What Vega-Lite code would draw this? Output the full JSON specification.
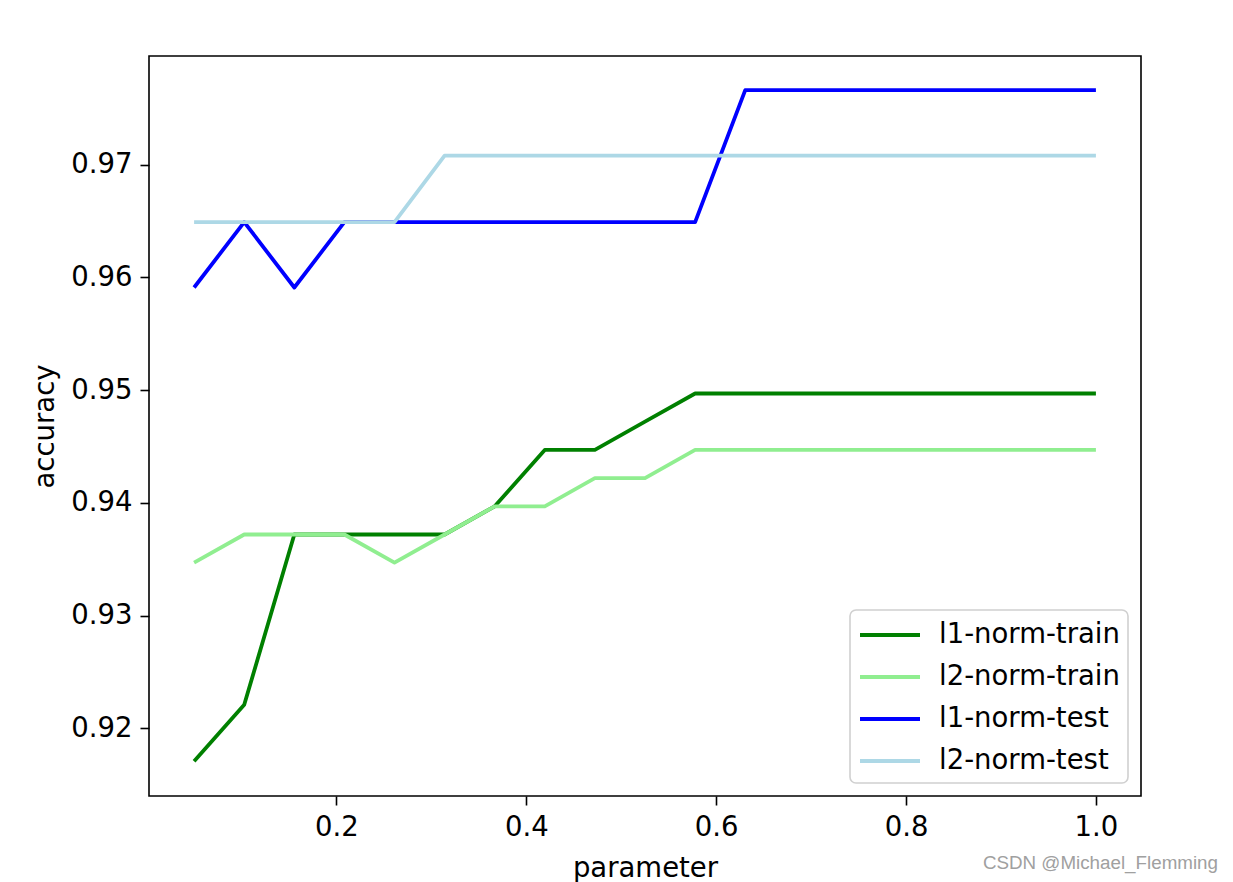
{
  "$schema": "https://vega.github.io/schema/vega-lite/v6.json",
  "width": 992,
  "height": 740,
  "autosize": {"type": "none"},
  "padding": {"left": 149, "top": 56, "right": 92, "bottom": 86},
  "background": "white",
  "title": {
    "text": "CSDN @Michael_Flemming",
    "orient": "bottom",
    "anchor": "end",
    "frame": "group",
    "font": "Liberation Sans",
    "fontSize": 18.8,
    "fontWeight": "normal",
    "color": "#a0a0a0",
    "dx": 77,
    "offset": -28
  },
  "config": {
    "view": {"stroke": "black", "strokeWidth": 1.6},
    "font": "DejaVu Sans",
    "axis": {
      "grid": false,
      "domain": false,
      "tickColor": "black",
      "tickWidth": 1.6,
      "tickSize": 9,
      "labelFont": "DejaVu Sans",
      "labelFontSize": 27.5,
      "labelColor": "black",
      "labelPadding": 8,
      "titleFont": "DejaVu Sans",
      "titleFontSize": 27.5,
      "titleFontWeight": "normal",
      "titleColor": "black"
    }
  },
  "data": {
    "values": [
      {"x": 0.05, "accuracy": 0.9171, "series": "l1-norm-train"},
      {"x": 0.1028, "accuracy": 0.9221, "series": "l1-norm-train"},
      {"x": 0.1556, "accuracy": 0.9372, "series": "l1-norm-train"},
      {"x": 0.2083, "accuracy": 0.9372, "series": "l1-norm-train"},
      {"x": 0.2611, "accuracy": 0.9372, "series": "l1-norm-train"},
      {"x": 0.3139, "accuracy": 0.9372, "series": "l1-norm-train"},
      {"x": 0.3667, "accuracy": 0.9397, "series": "l1-norm-train"},
      {"x": 0.4194, "accuracy": 0.9447, "series": "l1-norm-train"},
      {"x": 0.4722, "accuracy": 0.9447, "series": "l1-norm-train"},
      {"x": 0.525, "accuracy": 0.9472, "series": "l1-norm-train"},
      {"x": 0.5778, "accuracy": 0.9497, "series": "l1-norm-train"},
      {"x": 0.6306, "accuracy": 0.9497, "series": "l1-norm-train"},
      {"x": 0.6833, "accuracy": 0.9497, "series": "l1-norm-train"},
      {"x": 0.7361, "accuracy": 0.9497, "series": "l1-norm-train"},
      {"x": 0.7889, "accuracy": 0.9497, "series": "l1-norm-train"},
      {"x": 0.8417, "accuracy": 0.9497, "series": "l1-norm-train"},
      {"x": 0.8944, "accuracy": 0.9497, "series": "l1-norm-train"},
      {"x": 0.9472, "accuracy": 0.9497, "series": "l1-norm-train"},
      {"x": 1.0, "accuracy": 0.9497, "series": "l1-norm-train"},

      {"x": 0.05, "accuracy": 0.9347, "series": "l2-norm-train"},
      {"x": 0.1028, "accuracy": 0.9372, "series": "l2-norm-train"},
      {"x": 0.1556, "accuracy": 0.9372, "series": "l2-norm-train"},
      {"x": 0.2083, "accuracy": 0.9372, "series": "l2-norm-train"},
      {"x": 0.2611, "accuracy": 0.9347, "series": "l2-norm-train"},
      {"x": 0.3139, "accuracy": 0.9372, "series": "l2-norm-train"},
      {"x": 0.3667, "accuracy": 0.9397, "series": "l2-norm-train"},
      {"x": 0.4194, "accuracy": 0.9397, "series": "l2-norm-train"},
      {"x": 0.4722, "accuracy": 0.9422, "series": "l2-norm-train"},
      {"x": 0.525, "accuracy": 0.9422, "series": "l2-norm-train"},
      {"x": 0.5778, "accuracy": 0.9447, "series": "l2-norm-train"},
      {"x": 0.6306, "accuracy": 0.9447, "series": "l2-norm-train"},
      {"x": 0.6833, "accuracy": 0.9447, "series": "l2-norm-train"},
      {"x": 0.7361, "accuracy": 0.9447, "series": "l2-norm-train"},
      {"x": 0.7889, "accuracy": 0.9447, "series": "l2-norm-train"},
      {"x": 0.8417, "accuracy": 0.9447, "series": "l2-norm-train"},
      {"x": 0.8944, "accuracy": 0.9447, "series": "l2-norm-train"},
      {"x": 0.9472, "accuracy": 0.9447, "series": "l2-norm-train"},
      {"x": 1.0, "accuracy": 0.9447, "series": "l2-norm-train"},

      {"x": 0.05, "accuracy": 0.9591, "series": "l1-norm-test"},
      {"x": 0.1028, "accuracy": 0.9649, "series": "l1-norm-test"},
      {"x": 0.1556, "accuracy": 0.9591, "series": "l1-norm-test"},
      {"x": 0.2083, "accuracy": 0.9649, "series": "l1-norm-test"},
      {"x": 0.2611, "accuracy": 0.9649, "series": "l1-norm-test"},
      {"x": 0.3139, "accuracy": 0.9649, "series": "l1-norm-test"},
      {"x": 0.3667, "accuracy": 0.9649, "series": "l1-norm-test"},
      {"x": 0.4194, "accuracy": 0.9649, "series": "l1-norm-test"},
      {"x": 0.4722, "accuracy": 0.9649, "series": "l1-norm-test"},
      {"x": 0.525, "accuracy": 0.9649, "series": "l1-norm-test"},
      {"x": 0.5778, "accuracy": 0.9649, "series": "l1-norm-test"},
      {"x": 0.6306, "accuracy": 0.9766, "series": "l1-norm-test"},
      {"x": 0.6833, "accuracy": 0.9766, "series": "l1-norm-test"},
      {"x": 0.7361, "accuracy": 0.9766, "series": "l1-norm-test"},
      {"x": 0.7889, "accuracy": 0.9766, "series": "l1-norm-test"},
      {"x": 0.8417, "accuracy": 0.9766, "series": "l1-norm-test"},
      {"x": 0.8944, "accuracy": 0.9766, "series": "l1-norm-test"},
      {"x": 0.9472, "accuracy": 0.9766, "series": "l1-norm-test"},
      {"x": 1.0, "accuracy": 0.9766, "series": "l1-norm-test"},

      {"x": 0.05, "accuracy": 0.9649, "series": "l2-norm-test"},
      {"x": 0.1028, "accuracy": 0.9649, "series": "l2-norm-test"},
      {"x": 0.1556, "accuracy": 0.9649, "series": "l2-norm-test"},
      {"x": 0.2083, "accuracy": 0.9649, "series": "l2-norm-test"},
      {"x": 0.2611, "accuracy": 0.9649, "series": "l2-norm-test"},
      {"x": 0.3139, "accuracy": 0.9708, "series": "l2-norm-test"},
      {"x": 0.3667, "accuracy": 0.9708, "series": "l2-norm-test"},
      {"x": 0.4194, "accuracy": 0.9708, "series": "l2-norm-test"},
      {"x": 0.4722, "accuracy": 0.9708, "series": "l2-norm-test"},
      {"x": 0.525, "accuracy": 0.9708, "series": "l2-norm-test"},
      {"x": 0.5778, "accuracy": 0.9708, "series": "l2-norm-test"},
      {"x": 0.6306, "accuracy": 0.9708, "series": "l2-norm-test"},
      {"x": 0.6833, "accuracy": 0.9708, "series": "l2-norm-test"},
      {"x": 0.7361, "accuracy": 0.9708, "series": "l2-norm-test"},
      {"x": 0.7889, "accuracy": 0.9708, "series": "l2-norm-test"},
      {"x": 0.8417, "accuracy": 0.9708, "series": "l2-norm-test"},
      {"x": 0.8944, "accuracy": 0.9708, "series": "l2-norm-test"},
      {"x": 0.9472, "accuracy": 0.9708, "series": "l2-norm-test"},
      {"x": 1.0, "accuracy": 0.9708, "series": "l2-norm-test"}
    ]
  },
  "mark": {"type": "line", "strokeWidth": 3.8, "strokeJoin": "round"},
  "encoding": {
    "x": {
      "field": "x",
      "type": "quantitative",
      "title": "parameter",
      "scale": {"domain": [0.0025, 1.0475], "nice": false, "zero": false},
      "axis": {"values": [0.2, 0.4, 0.6, 0.8, 1.0], "format": ".1f", "titlePadding": 14}
    },
    "y": {
      "field": "accuracy",
      "type": "quantitative",
      "title": "accuracy",
      "scale": {"domain": [0.91401, 0.97963], "nice": false, "zero": false},
      "axis": {"values": [0.92, 0.93, 0.94, 0.95, 0.96, 0.97], "format": ".2f", "titlePadding": 11}
    },
    "color": {
      "field": "series",
      "type": "nominal",
      "sort": ["l1-norm-train", "l2-norm-train", "l1-norm-test", "l2-norm-test"],
      "scale": {
        "domain": ["l1-norm-train", "l2-norm-train", "l1-norm-test", "l2-norm-test"],
        "range": ["#008000", "#90ee90", "#0000ff", "#add8e6"]
      },
      "legend": {
        "title": null,
        "orient": "bottom-right",
        "offset": 13,
        "padding": 8,
        "fillColor": "white",
        "strokeColor": "#d0d0d0",
        "cornerRadius": 6,
        "symbolType": "M-1,0H3",
        "symbolSize": 900,
        "symbolStrokeWidth": 4,
        "labelFont": "DejaVu Sans",
        "labelFontSize": 27.5,
        "labelColor": "black",
        "labelOffset": 47,
        "labelLimit": 400,
        "rowPadding": 11,
        "encode": {"legend": {"update": {"strokeWidth": {"value": 1.6}}}}
      }
    }
  }
}
